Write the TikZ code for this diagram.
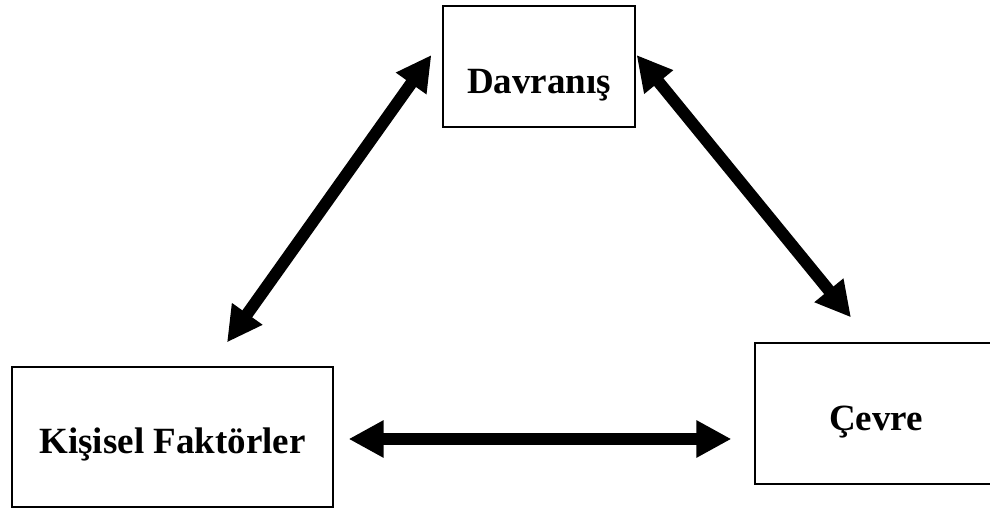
\documentclass[tikz,border=0pt]{standalone}
\usepackage{fontspec}
\setmainfont{Liberation Serif}
\usetikzlibrary{arrows.meta}
\usetikzlibrary{positioning}
\usetikzlibrary{calc}

\begin{document}
\begin{tikzpicture}[
	x=1pt, y=1pt,
	factor box/.style={draw, line width=1.2pt, inner sep=0pt,
		font=\fontsize{37}{44}\selectfont\bfseries,
		text depth=0pt, text height=34pt},
	thick arrow/.style={line width=12pt,
		{Triangle[length=35pt,width=35pt]}-{Triangle[length=35pt,width=35pt]}}]

% page frame, cuts the right box off
\clip (0,0) rectangle (990,510);

\def\BoxHeight{141}

% the three factors
\node (davranis) [factor box, minimum width=192pt, minimum height=121pt,
	text height=55pt] at (539,443.5) {Davranış};
\node (kisisel) [factor box, minimum width=321pt, minimum height=140pt]
	at (172.5,73) {Kişisel Faktörler};
% right side of this box runs off the page
\node (cevre) [factor box, minimum width=270pt, minimum height=\BoxHeight pt]
	at (890,96.5) {\hspace*{-28pt}Çevre};

% davranis <-> kisisel faktorler
\draw[thick arrow]
	($(davranis.west)+(-11,11.5)$) --
	($(kisisel.north)+(54.5,24)$);

% davranis <-> cevre
\draw[thick arrow]
	($(davranis.east)+(1,11.5)$) --
	($(cevre.north)+(-39,25)$);

% kisisel faktorler <-> cevre
\draw[thick arrow]
	($(kisisel.east)+(15,-2)$) --
	($(cevre.west)+(-23,-25.5)$);

\end{tikzpicture}
\end{document}
